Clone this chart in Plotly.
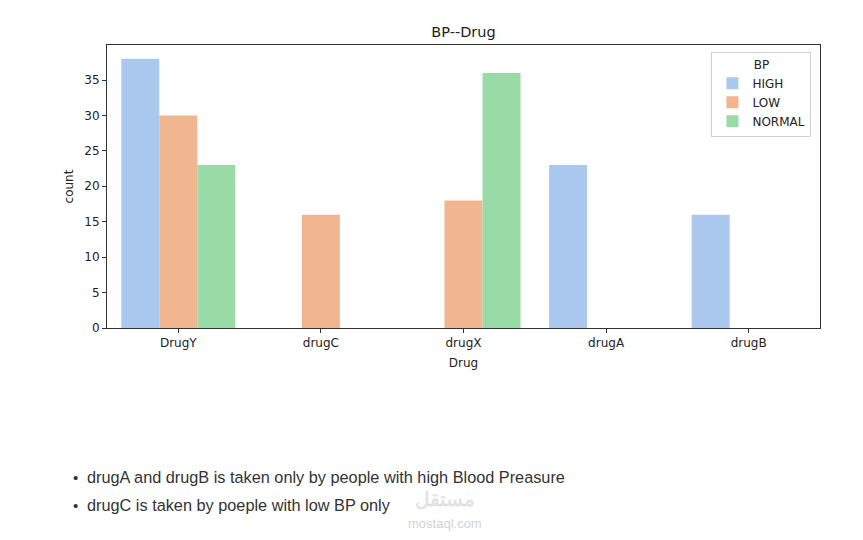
import plotly.graph_objects as go

drugs = ["DrugY", "drugC", "drugX", "drugA", "drugB"]
bp_levels = ["HIGH", "LOW", "NORMAL"]
high_counts = [38, None, None, 23, 16]
low_counts = [30, 16, 18, None, None]
normal_counts = [23, None, 36, None, None]
colors = {"HIGH": "#abc9ee", "LOW": "#f1b58f", "NORMAL": "#98dba7"}
notes = [
    "drugA and drugB is taken only by people with high Blood Preasure",
    "drugC is taken by poeple with low BP only",
]

series = {"HIGH": high_counts, "LOW": low_counts, "NORMAL": normal_counts}

fig = go.Figure()
for lvl in bp_levels:
    fig.add_trace(go.Bar(
        x=drugs, y=series[lvl], name=lvl,
        marker=dict(color=colors[lvl], line=dict(width=0)),
    ))

L, R, T, B = 107, 820, 45, 328
W, H = 863, 540

fig.update_layout(
    width=W, height=H,
    margin=dict(l=L, r=W - R, t=T, b=H - B, pad=0),
    paper_bgcolor="white", plot_bgcolor="white",
    barmode="group", bargap=0.2, bargroupgap=0,
    font=dict(family="DejaVu Sans", size=12, color="#222"),
    title=dict(text="BP--Drug", x=(L + R) / 2 / W, xanchor="center",
               y=1 - 32 / H, yanchor="middle",
               font=dict(size=14.5, color="#222")),
    showlegend=True,
    legend=dict(
        x=0.988, y=0.975, xanchor="right", yanchor="top",
        bordercolor="#d0d0d0", borderwidth=1, bgcolor="rgba(255,255,255,0.8)",
        title=dict(text="BP", side="top center", font=dict(size=12)),
        font=dict(size=12), itemwidth=30, tracegroupgap=2,
    ),
)

fig.update_xaxes(
    type="category", range=[-0.5, 4.5],
    showline=True, linecolor="#333", linewidth=1, mirror=True,
    ticks="outside", ticklen=4, tickcolor="#333",
    showgrid=False, zeroline=False,
    title=dict(text="Drug", font=dict(size=12), standoff=9),
)
fig.update_yaxes(
    range=[0, 39.94], tickvals=[0, 5, 10, 15, 20, 25, 30, 35],
    showline=True, linecolor="#333", linewidth=1, mirror=True,
    ticks="outside", ticklen=4, tickcolor="#333",
    showgrid=False, zeroline=False,
    title=dict(text="count", font=dict(size=12), standoff=8),
)

def px_x(px):
    return (px - L) / (R - L)

def px_y(py):
    return (B - py) / (B - T)

for i, note in enumerate(notes):
    yy = 477 + 28 * i
    fig.add_annotation(text="•", x=px_x(75), y=px_y(yy), xref="paper", yref="paper",
                       xanchor="center", yanchor="middle", showarrow=False,
                       font=dict(family="Liberation Sans", size=15, color="#333"))
    fig.add_annotation(text=note, x=px_x(85), y=px_y(yy), xref="paper", yref="paper",
                       xanchor="left", yanchor="middle", showarrow=False,
                       font=dict(family="Liberation Sans", size=16.3, color="#333"))

# watermark
fig.add_annotation(text="<b>مستقل</b>", x=px_x(445), y=px_y(499), xref="paper", yref="paper",
                   xanchor="center", yanchor="middle", showarrow=False,
                   font=dict(family="Noto Sans", size=20, color="rgba(200,200,200,0.5)"))
fig.add_annotation(text="mostaql.com", x=px_x(445), y=px_y(523), xref="paper", yref="paper",
                   xanchor="center", yanchor="middle", showarrow=False,
                   font=dict(family="Liberation Sans", size=13, color="rgba(190,190,190,0.7)"))

fig.write_html("out.html")
